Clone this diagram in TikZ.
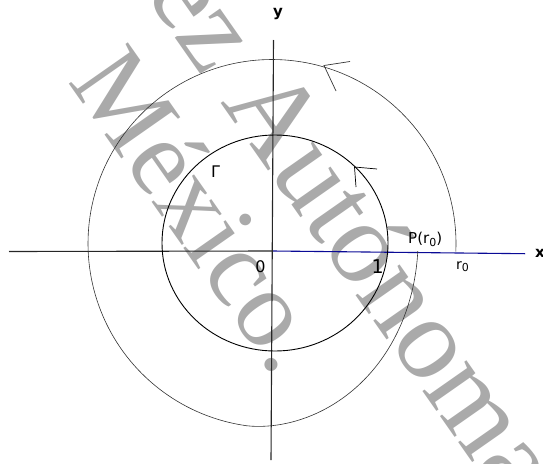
\documentclass[tikz,border=0pt]{standalone}
\usepackage{fontspec}
\setmainfont{DejaVu Sans}
\newfontfamily\wmfont{Liberation Serif}
\definecolor{wmgray}{RGB}{170,170,170}
\definecolor{axisblue}{RGB}{10,10,150}
\definecolor{curvegray}{RGB}{50,50,50}
\newcommand\sbz[1]{\raisebox{-0.35ex}{\fontsize{11}{11}\selectfont #1}}
\begin{document}
\begin{tikzpicture}[x=1pt,y=-1pt,
  declare function={sp(\t)=184-38*sin((\t-262)*90/95)*sqrt(sin((\t-262)*90/95));},
  lbl/.style={inner sep=0pt, font=\fontsize{15}{15}\selectfont},
  wm/.style={inner sep=0pt, anchor=base west, rotate=-55, text=wmgray},
  axisline/.style={line width=1.1pt, black!85},
  innerc/.style={line width=0.9pt, black},
  outerc/.style={line width=0.6pt, curvegray}]
\useasboundingbox (0,0) rectangle (543,463);
\clip (0,0) rectangle (543,463);
% watermark
\node[wm, font=\wmfont\fontsize{117}{117}\selectfont] (wm1) at (144,-7) {ez Autónoma};
\node[wm, font=\wmfont\fontsize{110}{110}\selectfont] (wm2) at (67,81) {México.};
% axes
\coordinate (xl) at (9,251.5);
\coordinate (o) at (272.5,251);
\coordinate (xr) at (525,253.7);
\coordinate (yt) at (273.5,40);
\coordinate (yb) at (271,460);
\draw[axisline] (xl) -- (o);
\draw[axisline, axisblue] (o) -- (xr);
\draw[axisline] (yt) -- (yb);
% inner circle Gamma
\draw[innerc] (275,243) ellipse [x radius=113, y radius=108];
% outer contour
\draw[outerc] plot[domain=-2.5:262, samples=150] ({272+184*cos(\x)},{243.5-184*sin(\x)})
  -- plot[domain=262:357, samples=60] ({272+sp(\x)*cos(\x)},{243.5-sp(\x)*sin(\x)});
% arrowheads
\coordinate (ot) at (324,65.5);
\coordinate (oa) at (350,61.5);
\coordinate (ob) at (336,91);
\draw[outerc, line width=0.7pt] (oa) -- (ot) -- (ob);
\coordinate (it) at (354.5,167);
\coordinate (ia) at (377,169);
\coordinate (ib) at (356,187);
\draw[innerc, line width=0.7pt] (ia) -- (it) -- (ib);
% labels
\node[lbl, font=\bfseries\fontsize{15}{15}\selectfont] (ylab) at (278,13.7) {y};
\node[lbl, font=\bfseries\fontsize{15}{15}\selectfont, anchor=base west] (xlab) at (535,257) {x};
\node[lbl, font=\fontsize{16}{16}\selectfont] (gam) at (215.5,171.3) {Γ};
\node[lbl, font=\fontsize{16}{16}\selectfont] (zero) at (260.5,266.5) {0};
\node[lbl, font=\fontsize{19}{19}\selectfont] (one) at (377.7,266.5) {1};
\node[lbl, anchor=base west] (P) at (408,243.3) {P(r\sbz{0})};
\node[lbl, font=\fontsize{14}{14}\selectfont, anchor=base west] (r0) at (456,269) {r\sbz{0}};
\end{tikzpicture}
\end{document}
